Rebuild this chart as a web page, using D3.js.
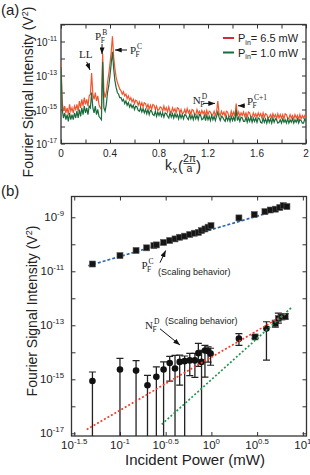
<!DOCTYPE html>
<html>
<head>
<meta charset="utf-8">
<script src="https://cdn.jsdelivr.net/npm/d3@7"></script>
<style>
  body { margin: 0; background: #fff; }
  text { font-family: "Liberation Sans", Arial, sans-serif; fill: #222; }
  .serif { font-family: "Liberation Serif", "Times New Roman", serif; }
</style>
</head>
<body>
<svg width="310" height="475"></svg>
<script>
// ---------- panel (a) data: spectrum, log10(V^2) sampled every 0.01 in k_x ----------
var kStep = 0.01;
var redLog = [
  -12.2, -14.6, -15.1, -14.8, -15.2, -14.9, -15.3, -14.7, -15.1, -14.9,
  -15.2, -14.8, -15.0, -14.7, -15.1, -14.5, -14.9, -14.4, -14.8, -14.3,
  -14.7, -14.4, -14.8, -14.2, -14.1, -12.85, -14.1, -14.4, -14.0, -14.5,
  -14.2, -14.7, -14.9, -15.0, -11.7, -13.9, -14.3, -14.0, -13.4, -12.9,
  -12.3, -11.6, -10.7, -11.9, -12.6, -13.1, -13.4, -13.6, -13.8, -13.9,
  -14.1, -13.95, -14.2, -14.1, -14.35, -14.2, -14.45, -14.3, -14.55, -14.4,
  -14.65, -14.45, -14.5, -14.75, -14.55, -14.8, -14.6, -14.85, -14.6, -14.65,
  -14.9, -14.7, -14.95, -14.75, -15.0, -14.7, -14.75, -15.0, -14.8, -15.05,
  -15.0, -14.85, -14.9, -15.1, -14.8, -15.05, -14.9, -15.15, -14.85, -15.1,
  -15.2, -14.9, -15.1, -14.95, -15.2, -14.9, -14.95, -15.2, -15.0, -15.25,
  -15.2, -15.0, -15.25, -14.95, -15.2, -15.05, -15.3, -15.0, -15.05, -15.3,
  -15.3, -15.0, -15.25, -15.1, -15.3, -15.05, -15.25, -15.1, -15.35, -15.05,
  -15.3, -15.1, -15.15, -15.35, -15.3, -15.1, -15.35, -15.15, -14.5, -15.2,
  -15.35, -15.1, -15.3, -15.15, -15.4, -15.1, -15.15, -15.4, -15.4, -15.1,
  -15.35, -15.15, -15.4, -14.65, -15.35, -15.15, -15.4, -15.2, -15.35, -15.15,
  -15.4, -15.2, -15.45, -15.15, -15.2, -15.45, -15.45, -15.2, -15.4, -15.25,
  -15.45, -15.2, -15.4, -15.25, -15.5, -15.2, -15.45, -15.25, -15.3, -15.5,
  -15.45, -15.3, -15.5, -15.25, -15.45, -15.3, -15.55, -15.25, -15.5, -15.3,
  -15.5, -15.3, -15.55, -15.25, -15.3, -15.5, -15.55, -15.3, -15.5, -15.35,
  -15.55, -15.3, -15.5, -15.35, -15.6, -15.3, -15.55, -15.35, -15.5, -15.35, -15.45
];
var greenLog = [
  -12.5, -15.0, -15.5, -15.2, -15.6, -15.3, -15.7, -15.2, -15.6, -15.3,
  -15.6, -15.2, -15.5, -15.1, -15.5, -15.0, -15.4, -14.9, -15.3, -14.8,
  -15.2, -14.9, -15.3, -14.8, -14.9, -14.0, -14.9, -15.2, -14.8, -15.3,
  -15.0, -15.4, -15.5, -15.6, -12.2, -14.9, -15.1, -14.7, -14.0, -13.6,
  -13.0, -12.3, -11.6, -12.6, -13.3, -13.7, -14.0, -14.1, -14.3, -14.3,
  -14.5, -14.4, -14.65, -14.5, -14.75, -14.6, -14.85, -14.7, -14.9, -14.75,
  -15.0, -14.8, -14.85, -15.05, -15.1, -14.9, -15.15, -14.95, -15.2, -15.0,
  -15.25, -15.0, -15.3, -15.05, -15.1, -15.3, -15.35, -15.1, -15.4, -15.15,
  -15.35, -15.15, -15.4, -15.2, -15.45, -15.2, -15.25, -15.4, -15.5, -15.2,
  -15.45, -15.25, -15.5, -15.25, -15.45, -15.3, -15.55, -15.25, -15.5, -15.3,
  -15.55, -15.3, -15.35, -15.5, -15.6, -15.3, -15.55, -15.35, -15.6, -15.3,
  -15.55, -15.35, -15.6, -15.3, -15.35, -15.6, -15.55, -15.35, -15.65, -15.35,
  -15.6, -15.4, -15.65, -15.35, -15.6, -15.4, -15.65, -15.4, -15.15, -15.45,
  -15.65, -15.4, -15.45, -15.6, -15.7, -15.4, -15.65, -15.45, -15.7, -15.4,
  -15.65, -15.45, -15.7, -15.0, -15.65, -15.45, -15.7, -15.45, -15.5, -15.7,
  -15.7, -15.45, -15.75, -15.5, -15.7, -15.45, -15.75, -15.5, -15.7, -15.5,
  -15.75, -15.5, -15.55, -15.75, -15.8, -15.5, -15.75, -15.55, -15.8, -15.5,
  -15.75, -15.55, -15.8, -15.5, -15.75, -15.55, -15.6, -15.8, -15.75, -15.6,
  -15.8, -15.55, -15.75, -15.6, -15.8, -15.55, -15.8, -15.6, -15.75, -15.55,
  -15.8, -15.6, -15.75, -15.55, -15.8, -15.6, -15.65, -15.8, -15.8, -15.55, -15.7
];
var legendA = ["= 6.5 mW", "= 1.0 mW"];

// ---------- panel (b) data ----------
// P_F^C peak (squares)
var powerC = [0.05, 0.10, 0.15, 0.196, 0.235, 0.25, 0.30, 0.35, 0.40, 0.45, 0.51, 0.58, 0.65,
              0.72, 0.78, 0.85, 0.92, 0.99, 2.0, 2.94, 3.85, 4.4, 5.0, 5.6, 6.1, 6.7];
var sigC = [1.86e-11, 3.8e-11, 5.9e-11, 7.4e-11, 8.9e-11, 9.5e-11, 1.17e-10, 1.38e-10, 1.58e-10,
            1.82e-10, 2.0e-10, 2.3e-10, 2.57e-10, 2.75e-10, 3.2e-10, 3.7e-10, 4.3e-10, 4.9e-10,
            9.5e-10, 1.26e-9, 1.62e-9, 1.86e-9, 2.0e-9, 2.3e-9, 2.7e-9, 2.5e-9];
var errC = [0.05, 0.06, 0.09, 0.05, 0.05, 0.04, 0.05, 0.04, 0.05, 0.04, 0.05, 0.04, 0.05,
            0.04, 0.05, 0.05, 0.06, 0.05, 0.06, 0.05, 0.05, 0.05, 0.05, 0.05, 0.06, 0.05];
// N_F^D peak (circles / squares)
var powerN = [0.05, 0.10, 0.15, 0.20, 0.25, 0.30, 0.35, 0.40, 0.45, 0.51, 0.58, 0.66,
              0.72, 0.78, 0.85, 0.92, 0.98, 2.0, 3.0, 4.0, 5.0, 5.4, 5.9, 6.4];
var sigN = [8.7e-16, 2.3e-15, 2.1e-15, 6.0e-16, 1.23e-15, 2.3e-15, 4.0e-15, 2.5e-15, 4.4e-15,
            4.7e-15, 5.0e-15, 5.0e-15, 9.3e-15, 4.4e-15, 1.17e-14, 1.12e-14, 8.9e-15, 3.2e-14,
            3.7e-14, 7.6e-14, 1.15e-13, 1.78e-13, 2.04e-13, 2.14e-13];
var errUpN = [0.33, 0.41, 0.37, 0.37, 0.37, 0.28, 0.25, 0.49, 0.25, 0.19, 0.26, 0.26,
              0.36, 0.43, 0.19, 0.15, 0.2, 0.19, 0.06, 0.25, 0.12, 0.2, 0.1, 0.1];
var errLoN = [5, 5, 5, 5, 5, 5, 0.67, 5, 0.86, 5, 0.56, 0.63,
              0.49, 5, 0.99, 0.41, 0.43, 0.25, 0.05, 1.17, 0.13, 0.17, 0.1, 0.1];
var shapeN = ["c","c","c","c","c","c","c","c","c","c","c","c",
              "c","c","c","c","c","c","s","c","s","s","s","s"];
// fitted scaling lines (end points)
var fitC = { p: [0.045, 7.2], s: [1.6e-11, 2.5e-9] };      // ~ P^1
var fitN2 = { p: [0.0433, 6.67], s: [1.38e-17, 2.75e-13] }; // ~ P^2
var fitN3 = { p: [0.286, 7.55], s: [2.14e-17, 4.6e-13] };   // ~ P^3

// tick values
var kTicks = [0, 0.2, 0.4, 0.6, 0.8, 1, 1.2, 1.4, 1.6, 1.8, 2];
var kLabels = [0, 0.4, 0.8, 1.2, 1.6, 2];
var expA = [-17, -16, -15, -14, -13, -12, -11, -10];
var expALabels = [-17, -15, -13, -11];
var expPB = [-1.5, -1, -0.5, 0, 0.5, 1];
var expB = [-17, -16, -15, -14, -13, -12, -11, -10, -9];
var expBLabels = [-17, -15, -13, -11, -9];

var RED = "#f2552c", GREEN = "#1b6b3c";

var svg = d3.select("svg");
var defs = svg.append("defs");
defs.append("marker").attr("id", "arr").attr("viewBox", "0 0 8 6")
  .attr("refX", 8).attr("refY", 3).attr("markerWidth", 7).attr("markerHeight", 5)
  .attr("markerUnits", "userSpaceOnUse").attr("orient", "auto")
  .append("path").attr("d", "M0,0L8,3L0,6Z").attr("fill", "#111");

// scales
var xa = d3.scaleLinear().domain([0, 2]).range([61, 306]);
var ya = d3.scaleLog().domain([1e-17, 1e-10]).range([143.5, 24.5]);
var xb = d3.scaleLog().domain([Math.pow(10, -1.53), Math.pow(10, 1.04)]).range([71.5, 306.5]);
var yb = d3.scaleLog().domain([Math.pow(10, -17.1), Math.pow(10, -8.23)]).range([436, 196.5]);

function frame(g, xs, ys, xv, yv, id) {
  var xr = xs.range(), yr = ys.range();
  defs.append("clipPath").attr("id", id).append("rect")
    .attr("x", xr[0]).attr("y", yr[1]).attr("width", xr[1] - xr[0]).attr("height", yr[0] - yr[1]);
  g.append("g").attr("transform", "translate(0," + yr[0] + ")")
    .call(d3.axisBottom(xs).tickValues(xv).tickSize(-4).tickFormat(""));
  g.append("g").attr("transform", "translate(0," + yr[1] + ")")
    .call(d3.axisTop(xs).tickValues(xv).tickSize(-4).tickFormat(""));
  g.append("g").attr("transform", "translate(" + xr[0] + ",0)")
    .call(d3.axisLeft(ys).tickValues(yv).tickSize(-4).tickFormat(""));
  g.append("g").attr("transform", "translate(" + xr[1] + ",0)")
    .call(d3.axisRight(ys).tickValues(yv).tickSize(-4).tickFormat(""));
  g.selectAll(".domain").remove();
  g.selectAll(".tick line").attr("stroke", "#333").attr("stroke-width", 1);
  g.append("rect").attr("x", xr[0]).attr("y", yr[1])
    .attr("width", xr[1] - xr[0]).attr("height", yr[0] - yr[1])
    .attr("fill", "none").attr("stroke", "#333").attr("stroke-width", 1.3);
}

function powLabel(t, e, size) {
  t.append("tspan").text("10");
  t.append("tspan").attr("dy", -size * 0.42).attr("font-size", size * 0.68).text(e);
}

// P with stacked sub/superscript (serif)
function peakLabel(g, x, y, main, sub, sup) {
  var t = g.append("text").attr("class", "serif").attr("x", x).attr("y", y)
    .attr("font-size", 11).text(main);
  var w = t.node().getComputedTextLength();
  g.append("text").attr("class", "serif").attr("x", x + w - 0.5).attr("y", y + 3)
    .attr("font-size", 7.5).text(sub);
  g.append("text").attr("class", "serif").attr("x", x + w + 1).attr("y", y - 5)
    .attr("font-size", 7.5).text(sup);
}

function arrow(g, x1, y1, x2, y2) {
  g.append("line").attr("x1", x1).attr("y1", y1).attr("x2", x2).attr("y2", y2)
    .attr("stroke", "#111").attr("stroke-width", 1).attr("marker-end", "url(#arr)");
}

// ================= panel (a) =================
var ga = svg.append("g");
frame(ga, xa, ya, kTicks, expA.map(function(e) { return Math.pow(10, e); }), "clipA");

var spec = d3.line()
  .x(function(d, i) { return xa(i * kStep); })
  .y(function(d) { return ya(Math.pow(10, d)); });
var traces = ga.append("g").attr("clip-path", "url(#clipA)");
traces.append("path").datum(redLog).attr("d", spec)
  .attr("fill", "none").attr("stroke", RED).attr("stroke-width", 1.2);
traces.append("path").datum(greenLog).attr("d", spec)
  .attr("fill", "none").attr("stroke", GREEN).attr("stroke-width", 1.2);

ga.selectAll(".xl").data(kLabels).enter().append("text")
  .attr("x", function(d) { return xa(d); }).attr("y", 157)
  .attr("text-anchor", "middle").attr("font-size", 10).text(function(d) { return String(d); });
ga.selectAll(".yl").data(expALabels).enter().append("text")
  .attr("x", 57).attr("y", function(d) { return ya(Math.pow(10, d)) + 4; })
  .attr("text-anchor", "end").attr("font-size", 10)
  .each(function(d) { powLabel(d3.select(this), d, 10); });

// axis titles (a)
var yt = ga.append("text").attr("transform", "translate(33,92) rotate(-90)")
  .attr("text-anchor", "middle").attr("font-size", 14);
yt.append("tspan").text("Fourier Signal Intensity (V");
yt.append("tspan").attr("dy", -5).attr("font-size", 9).text("2");
yt.append("tspan").attr("dy", 5).text(")");

ga.append("text").attr("x", 165).attr("y", 170).attr("font-size", 14).text("k");
ga.append("text").attr("x", 172.5).attr("y", 173).attr("font-size", 9).text("x");
ga.append("text").attr("x", 178).attr("y", 171).attr("font-size", 15).text("(");
ga.append("text").attr("x", 189.5).attr("y", 161.5).attr("text-anchor", "middle").attr("font-size", 10.5).text("2π");
ga.append("line").attr("x1", 183.5).attr("x2", 195.5).attr("y1", 163.5).attr("y2", 163.5)
  .attr("stroke", "#222").attr("stroke-width", 0.8);
ga.append("text").attr("x", 189.5).attr("y", 172).attr("text-anchor", "middle").attr("font-size", 10.5).text("a");
ga.append("text").attr("x", 196).attr("y", 171).attr("font-size", 15).text(")");

ga.append("text").attr("x", 1).attr("y", 15).attr("font-size", 15).text("(a)");

// legend
[RED, GREEN].forEach(function(c, i) {
  var y = 38 + i * 14.5;
  ga.append("line").attr("x1", 223).attr("x2", 234).attr("y1", y).attr("y2", y)
    .attr("stroke", i === 0 ? "#d22c3a" : GREEN).attr("stroke-width", 2);
  var t = ga.append("text").attr("x", 238).attr("y", y + 4).attr("font-size", 11);
  t.append("tspan").text("P");
  t.append("tspan").attr("dy", 2.5).attr("font-size", 7).text("in");
  t.append("tspan").attr("dy", -2.5).text(legendA[i]);
});

// peak annotations (a), anchored in data units
function pa(k, e) { return [xa(k), ya(Math.pow(10, e))]; }
var p;
p = pa(0.147, -11.95); ga.append("text").attr("class", "serif").attr("x", p[0]).attr("y", p[1]).attr("font-size", 11).text("LL");
arrow(ga, pa(0.21, 0)[0], pa(0, -12.2)[1], pa(0.237, 0)[0], pa(0, -12.68)[1]);
p = pa(0.278, -10.91); peakLabel(ga, p[0], p[1], "P", "F", "B");
arrow(ga, xa(0.335), ya(Math.pow(10, -11.15)), xa(0.335), ya(Math.pow(10, -11.74)));
p = pa(0.563, -11.74); peakLabel(ga, p[0], p[1], "P", "F", "C");
arrow(ga, xa(0.539), ya(Math.pow(10, -11.5)), xa(0.441), ya(Math.pow(10, -11.5)));
p = pa(1.075, -14.68); peakLabel(ga, p[0], p[1], "N", "F", "D");
arrow(ga, xa(1.159), ya(Math.pow(10, -14.64)), xa(1.257), ya(Math.pow(10, -14.64)));
p = pa(1.518, -14.74); peakLabel(ga, p[0], p[1], "P", "F", "C+1");
arrow(ga, xa(1.502), ya(Math.pow(10, -14.78)), xa(1.445), ya(Math.pow(10, -14.78)));

// ================= panel (b) =================
var gb = svg.append("g");
frame(gb, xb, yb, expPB.map(function(e) { return Math.pow(10, e); }),
      expB.map(function(e) { return Math.pow(10, e); }), "clipB");

var plot = gb.append("g").attr("clip-path", "url(#clipB)");
var fitLine = d3.line().x(function(d) { return xb(d[0]); }).y(function(d) { return yb(d[1]); });
function fit(f, color, dash, w) {
  plot.append("path").datum(d3.zip(f.p, f.s)).attr("d", fitLine)
    .attr("fill", "none").attr("stroke", color).attr("stroke-width", w).attr("stroke-dasharray", dash);
}

// N_F^D error bars + points
var nData = powerN.map(function(pw, i) {
  return { p: pw, s: sigN[i], up: errUpN[i], lo: errLoN[i], shape: shapeN[i] };
});
var eb = plot.selectAll(".ebn").data(nData).enter().append("g");
eb.append("line")
  .attr("x1", function(d) { return xb(d.p); }).attr("x2", function(d) { return xb(d.p); })
  .attr("y1", function(d) { return yb(d.s * Math.pow(10, d.up)); })
  .attr("y2", function(d) { return yb(d.s / Math.pow(10, d.lo)); })
  .attr("stroke", "#222").attr("stroke-width", 1.3);
eb.append("line")
  .attr("x1", function(d) { return xb(d.p) - 3.5; }).attr("x2", function(d) { return xb(d.p) + 3.5; })
  .attr("y1", function(d) { return yb(d.s * Math.pow(10, d.up)); })
  .attr("y2", function(d) { return yb(d.s * Math.pow(10, d.up)); })
  .attr("stroke", "#222").attr("stroke-width", 1.2);
eb.filter(function(d) { return d.lo < 3; }).append("line")
  .attr("x1", function(d) { return xb(d.p) - 3.5; }).attr("x2", function(d) { return xb(d.p) + 3.5; })
  .attr("y1", function(d) { return yb(d.s / Math.pow(10, d.lo)); })
  .attr("y2", function(d) { return yb(d.s / Math.pow(10, d.lo)); })
  .attr("stroke", "#222").attr("stroke-width", 1.2);

fit(fitN2, "#e8412c", "2,2", 1.7);
fit(fitN3, "#1f9a52", "2,2", 1.7);
fit(fitC, "#2a67b0", "3,2", 1.7);

eb.filter(function(d) { return d.shape === "c"; }).append("circle")
  .attr("cx", function(d) { return xb(d.p); }).attr("cy", function(d) { return yb(d.s); })
  .attr("r", 3.3).attr("fill", "#111");
eb.filter(function(d) { return d.shape === "s"; }).append("rect")
  .attr("x", function(d) { return xb(d.p) - 3; }).attr("y", function(d) { return yb(d.s) - 3; })
  .attr("width", 6).attr("height", 6).attr("fill", "#111").attr("stroke", "#555").attr("stroke-width", 0.6);

// P_F^C error bars + squares
var cData = powerC.map(function(pw, i) { return { p: pw, s: sigC[i], e: errC[i] }; });
var cb = plot.selectAll(".ebc").data(cData).enter().append("g");
cb.append("line")
  .attr("x1", function(d) { return xb(d.p); }).attr("x2", function(d) { return xb(d.p); })
  .attr("y1", function(d) { return yb(d.s * Math.pow(10, d.e)); })
  .attr("y2", function(d) { return yb(d.s / Math.pow(10, d.e)); })
  .attr("stroke", "#555").attr("stroke-width", 1);
cb.append("rect")
  .attr("x", function(d) { return xb(d.p) - 3; }).attr("y", function(d) { return yb(d.s) - 3; })
  .attr("width", 6).attr("height", 6).attr("fill", "#151515").attr("stroke", "#555").attr("stroke-width", 0.6);

// tick labels (b)
gb.selectAll(".xl").data(expPB).enter().append("text")
  .attr("x", function(d) { return xb(Math.pow(10, d)); }).attr("y", 448.5)
  .attr("text-anchor", "middle").attr("font-size", 11.5)
  .each(function(d) { powLabel(d3.select(this), d, 11.5); });
gb.selectAll(".yl").data(expBLabels).enter().append("text")
  .attr("x", 64).attr("y", function(d) { return yb(Math.pow(10, d)) + 4; })
  .attr("text-anchor", "end").attr("font-size", 11.5)
  .each(function(d) { powLabel(d3.select(this), d, 11.5); });

var yt2 = gb.append("text").attr("transform", "translate(37,311) rotate(-90)")
  .attr("text-anchor", "middle").attr("font-size", 14);
yt2.append("tspan").text("Fourier Signal Intensity (V");
yt2.append("tspan").attr("dy", -5).attr("font-size", 9).text("2");
yt2.append("tspan").attr("dy", 5).text(")");
gb.append("text").attr("x", 195).attr("y", 465).attr("text-anchor", "middle")
  .attr("font-size", 15).text("Incident Power (mW)");
gb.append("text").attr("x", 1).attr("y", 196).attr("font-size", 15).text("(b)");

// annotations (b), anchored in data units
function pb(lx, ly) { return [xb(Math.pow(10, lx)), yb(Math.pow(10, ly))]; }
p = pb(-0.765, -10.92); peakLabel(gb, p[0], p[1], "P", "F", "C");
p = pb(-0.584, -11.14);
gb.append("text").attr("x", p[0]).attr("y", p[1]).attr("font-size", 9).text("(Scaling behavior)");
var a0 = pb(-0.562, -10.68), a1 = pb(-0.5, -10.23);
arrow(gb, a0[0], a0[1], a1[0], a1[1]);
p = pb(-0.726, -13.14); peakLabel(gb, p[0], p[1], "N", "F", "D");
p = pb(-0.508, -12.97);
gb.append("text").attr("x", p[0]).attr("y", p[1]).attr("font-size", 9).text("(Scaling behavior)");
a0 = pb(-0.562, -13.13); a1 = pb(-0.344, -13.73);
arrow(gb, a0[0], a0[1], a1[0], a1[1]);
</script>
</body>
</html>
